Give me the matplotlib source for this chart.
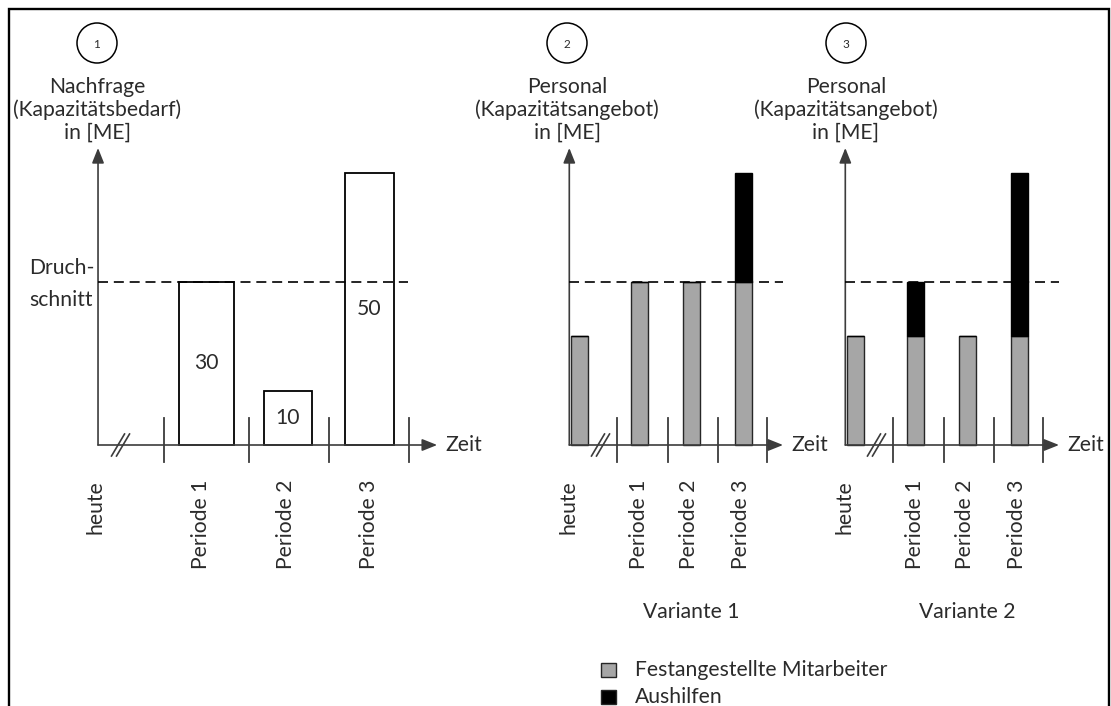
import matplotlib
matplotlib.use("Agg")
import matplotlib.pyplot as plt
from matplotlib.patches import Circle, Rectangle
from matplotlib.transforms import ScaledTranslation

plt.rcParams['font.family'] = ['Lato', 'DejaVu Sans']

# ---- data (ME = Mengeneinheiten) ----
demand_labels = ["Periode 1", "Periode 2", "Periode 3"]
demand = [30, 10, 50]
average = 30

time_labels = ["heute", "Periode 1", "Periode 2", "Periode 3"]
v1_permanent = [20, 30, 30, 30]
v1_temporary = [0, 0, 0, 20]
v2_permanent = [20, 20, 20, 20]
v2_temporary = [0, 10, 0, 30]

headers = [
    ("1", "Nachfrage\n(Kapazitätsbedarf)\nin [ME]"),
    ("2", "Personal\n(Kapazitätsangebot)\nin [ME]"),
    ("3", "Personal\n(Kapazitätsangebot)\nin [ME]"),
]
variant_titles = ["Variante 1", "Variante 2"]
legend_labels = ["Festangestellte Mitarbeiter", "Aushilfen"]

# ---- styling ----
W, H = 1111, 706
TEXT = "#2b2b2b"
AXIS = "#3c3c3c"
GREY = "#a6a6a6"
FS = 15.2
Y_BASE = 445.0      # pixel row of the zero line
Y_SCALE = 5.45      # pixels per ME
YLIM = (-30, 62)
Y_TOP = 54.5        # tip of the vertical arrow

fig = plt.figure(figsize=(W / 100, H / 100), dpi=100)

# page-level layer in pixel units (frame, circled numbers, headings, legend)
page = fig.add_axes([0, 0, 1, 1])
page.set_xlim(0, W)
page.set_ylim(H, 0)
page.axis("off")
page.plot([9, 9, 1109, 1109], [H + 5, 9, 9, H + 5], color="black", lw=1.7,
          solid_joinstyle="miter", clip_on=False)


def add_panel(x_slot1, slot_px, xlim):
    left = x_slot1 + (xlim[0] - 1) * slot_px
    right = x_slot1 + (xlim[1] - 1) * slot_px
    bottom = Y_BASE - YLIM[0] * Y_SCALE
    top = Y_BASE - YLIM[1] * Y_SCALE
    ax = fig.add_axes([left / W, 1 - bottom / H, (right - left) / W, (bottom - top) / H])
    ax.set_xlim(*xlim)
    ax.set_ylim(*YLIM)
    ax.axis("off")
    return ax


def px_offset(ax, x, y):
    return fig.dpi_scale_trans + ScaledTranslation(x, y, ax.transData)


def draw_axes(ax, axis_x, tip_x, avg_end, break_x, seps, label_x, labels):
    arrow = dict(arrowstyle="-|>,head_length=0.65,head_width=0.26", color=AXIS,
                 lw=1.2, mutation_scale=14, shrinkA=0, shrinkB=0)
    ax.annotate("", xy=(axis_x, Y_TOP), xytext=(axis_x, 0), arrowprops=arrow, zorder=5)
    ax.annotate("", xy=(tip_x, 0), xytext=(axis_x, 0), arrowprops=arrow, zorder=5)
    ax.annotate("Zeit", xy=(tip_x, 0), xytext=(8, 0), textcoords="offset pixels",
                ha="left", va="center", fontsize=FS, color=TEXT)
    ax.plot([axis_x, avg_end], [average, average], color="black", lw=1.2,
            dashes=(6, 3.5), zorder=6)
    for s in seps:
        ax.plot([s, s], [5.0, -3.1], color=AXIS, lw=1.3, zorder=5, clip_on=False)
    tr = px_offset(ax, break_x, 0)
    for dx in (-0.025, 0.025):
        ax.plot([dx - 0.065, dx + 0.065], [-0.11, 0.11], color=AXIS, lw=1.2,
                transform=tr, zorder=6, clip_on=False)
    for x, lab in zip(label_x, labels):
        ax.text(x, -(480 - Y_BASE) / Y_SCALE, lab, rotation=90, ha="center", va="top",
                fontsize=FS, color=TEXT)


# ---- panel 1: demand ----
ax1 = add_panel(206.5, 81.5, (-0.7, 4.3))
pos1 = [1, 2, 3]
bars = ax1.bar(pos1, demand, width=[0.675, 0.6, 0.6], color="white",
               edgecolor="black", linewidth=1.3, zorder=3)
for p, v in zip(pos1, demand):
    ax1.text(p, v / 2, str(v), ha="center", va="center", fontsize=FS, color=TEXT, zorder=4)
draw_axes(ax1, axis_x=-0.331, tip_x=3.83, avg_end=3.47, break_x=-0.055,
          seps=[0.48, 1.52, 2.5, 3.49], label_x=[-0.36, 0.93, 1.98, 2.99],
          labels=["heute"] + demand_labels)
ax1.annotate("Druch-", xy=(-0.331, average), xytext=(-4, 13), textcoords="offset pixels",
             ha="right", va="center", fontsize=FS, color=TEXT)
ax1.annotate("schnitt", xy=(-0.331, average), xytext=(-5, -18), textcoords="offset pixels",
             ha="right", va="center", fontsize=FS, color=TEXT)


# ---- panels 2 and 3: staffing variants ----
def staffing_panel(x_slot1, permanent, temporary, title):
    ax = add_panel(x_slot1, 52.0, (-0.7, 4.6))
    pos = [-0.157, 1, 2, 3]
    ax.bar(pos, permanent, width=0.33, color=GREY, edgecolor="#262626",
           linewidth=1.0, zorder=3)
    ax.bar(pos, temporary, width=0.33, bottom=permanent, color="black",
           edgecolor="black", linewidth=1.0, zorder=3)
    draw_axes(ax, axis_x=-0.35, tip_x=3.76, avg_end=3.76, break_x=0.25,
              seps=[0.57, 1.55, 2.51, 3.45], label_x=[-0.36, 0.99, 1.96, 2.96],
              labels=time_labels)
    ax.text(2.0, -(612 - Y_BASE) / Y_SCALE, title, ha="center", va="center",
            fontsize=FS, color=TEXT)
    return ax


ax2 = staffing_panel(639.5, v1_permanent, v1_temporary, variant_titles[0])
ax3 = staffing_panel(915.5, v2_permanent, v2_temporary, variant_titles[1])

# ---- circled numbers and headings ----
for cx, (num, head) in zip([97, 567, 846], headers):
    page.add_patch(Circle((cx, 43), 20, fill=False, edgecolor="black", lw=1.1))
    page.text(cx, 44, num, ha="center", va="center", fontsize=8.5, color=TEXT)
    page.text(cx, 77, head, ha="center", va="top", fontsize=FS, color=TEXT,
              linespacing=1.15, multialignment="center")

# ---- legend ----
for (y, face), lab in zip([(670, GREY), (697, "black")], legend_labels):
    page.add_patch(Rectangle((601, y - 7), 15, 14, facecolor=face,
                             edgecolor="#262626", lw=1.0))
    page.text(635, y, lab, ha="left", va="center", fontsize=FS, color=TEXT)

fig.savefig("out.png", dpi=100)
